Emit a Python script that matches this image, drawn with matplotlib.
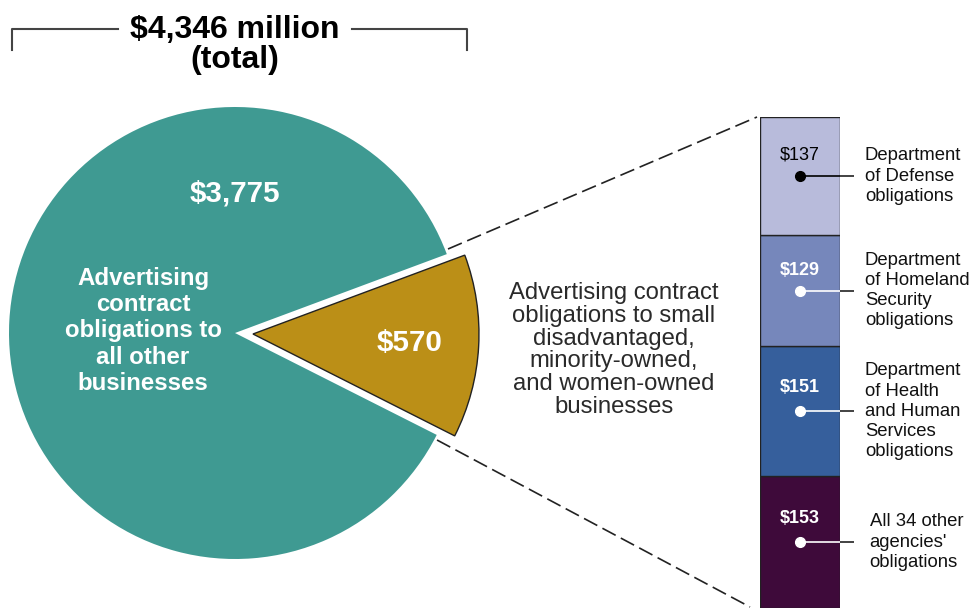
import matplotlib
matplotlib.use("Agg")
import matplotlib.pyplot as plt

plt.rcParams['font.family'] = ['Liberation Sans', 'DejaVu Sans']

# ---- data ----
pie_labels = ["Small disadvantaged, minority-owned, and women-owned", "All other businesses"]
pie_values = [570, 3775]
total_label = "$4,346 million\n(total)"
bar_categories = ["All 34 other\nagencies'\nobligations",
                  "Department\nof Health\nand Human\nServices\nobligations",
                  "Department\nof Homeland\nSecurity\nobligations",
                  "Department\nof Defense\nobligations"]
bar_values = [153, 151, 129, 137]
bar_colors = ["#3e0a3a", "#365f9c", "#7687bb", "#b8bbdb"]
bar_text_colors = ["white", "white", "white", "black"]
bar_text_weights = ["bold", "bold", "bold", "normal"]
dot_colors = ["white", "white", "white", "black"]

W, H = 972, 610
fig = plt.figure(figsize=(W / 100, H / 100), dpi=100)
ax = fig.add_axes([0, 0, 1, 1])

def py(y):  # pixel y (top-down) -> data y
    return H - y

# ---- pie ----
cx, cy, R = 235, py(333), 226
wedges, _ = ax.pie(pie_values, colors=["#bb8f17", "#3f9a92"], startangle=-26.8,
                   counterclock=True, explode=[18, 0], center=(cx, cy), radius=R,
                   labels=None)
wedges[0].set_edgecolor("#222222")
wedges[0].set_linewidth(1.0)
wedges[1].set_edgecolor("none")
ax.set_xlim(0, W)
ax.set_ylim(0, H)
ax.set_aspect("equal")
ax.axis("off")

ax.text(235, py(193), "$3,775", color="white", fontsize=21.3, fontweight="bold",
        ha="center", va="center")
ax.text(410, py(343), "$570", color="white", fontsize=21.3, fontweight="bold",
        ha="center", va="center")
ax.text(143, py(331), "Advertising\ncontract\nobligations to\nall other\nbusinesses",
        color="white", fontsize=17.3, fontweight="bold", ha="center", va="center",
        linespacing=1.18)

ax.text(614, py(350), "Advertising contract\nobligations to small\ndisadvantaged,\n"
        "minority-owned,\nand women-owned\nbusinesses", color="#2a2a2a",
        fontsize=17.2, ha="center", va="center", linespacing=1.04)

# title and bracket
ax.text(235, py(45), total_label, fontsize=23, fontweight="bold", ha="center",
        va="center", linespacing=0.99, color="black")
ax.plot([12, 12, 118], [py(50), py(29), py(29)], color="#444444", lw=1.5)
ax.plot([352, 467, 467], [py(29), py(29), py(50)], color="#444444", lw=1.5)

# dashed connectors
ax.plot([448, 757], [py(249), py(117)], color="#222222", lw=1.2, dashes=(9, 3.5))
ax.plot([437, 750], [py(440), py(607)], color="#222222", lw=1.2, dashes=(9, 3.5))

# ---- stacked bar ----
bx = fig.add_axes([760 / W, 2 / H, 80 / W, 491 / H])
bottom = 0
for val, col, tc, tw, dc, lab in zip(bar_values, bar_colors, bar_text_colors,
                                     bar_text_weights, dot_colors, bar_categories):
    bx.bar(0.5, val, width=1.0, bottom=bottom, color=col, edgecolor="#222222", lw=1.0)
    top = bottom + val
    bx.text(0.5, top - 0.32 * val, f"${val}", color=tc, fontsize=13,
            fontweight=tw, ha="center", va="center")
    ydot = top - 0.5 * val
    bx.plot([0.5, 1.0], [ydot, ydot], color=dc, lw=1.2, solid_capstyle="butt")
    bx.plot([1.0, 1.17], [ydot, ydot], color="#222222", lw=1.2, clip_on=False,
            solid_capstyle="butt")
    bx.plot(0.5, ydot, "o", color=dc, ms=7)
    lx = 1.31 if "All 34" not in lab else 1.37
    bx.text(lx, ydot, lab, fontsize=13.3, color="#111111", ha="left", va="center",
            linespacing=1.24, clip_on=False)
    bottom = top
bx.set_xlim(0, 1)
bx.set_ylim(0, sum(bar_values))
bx.axis("off")

fig.savefig("out.png", dpi=100)
